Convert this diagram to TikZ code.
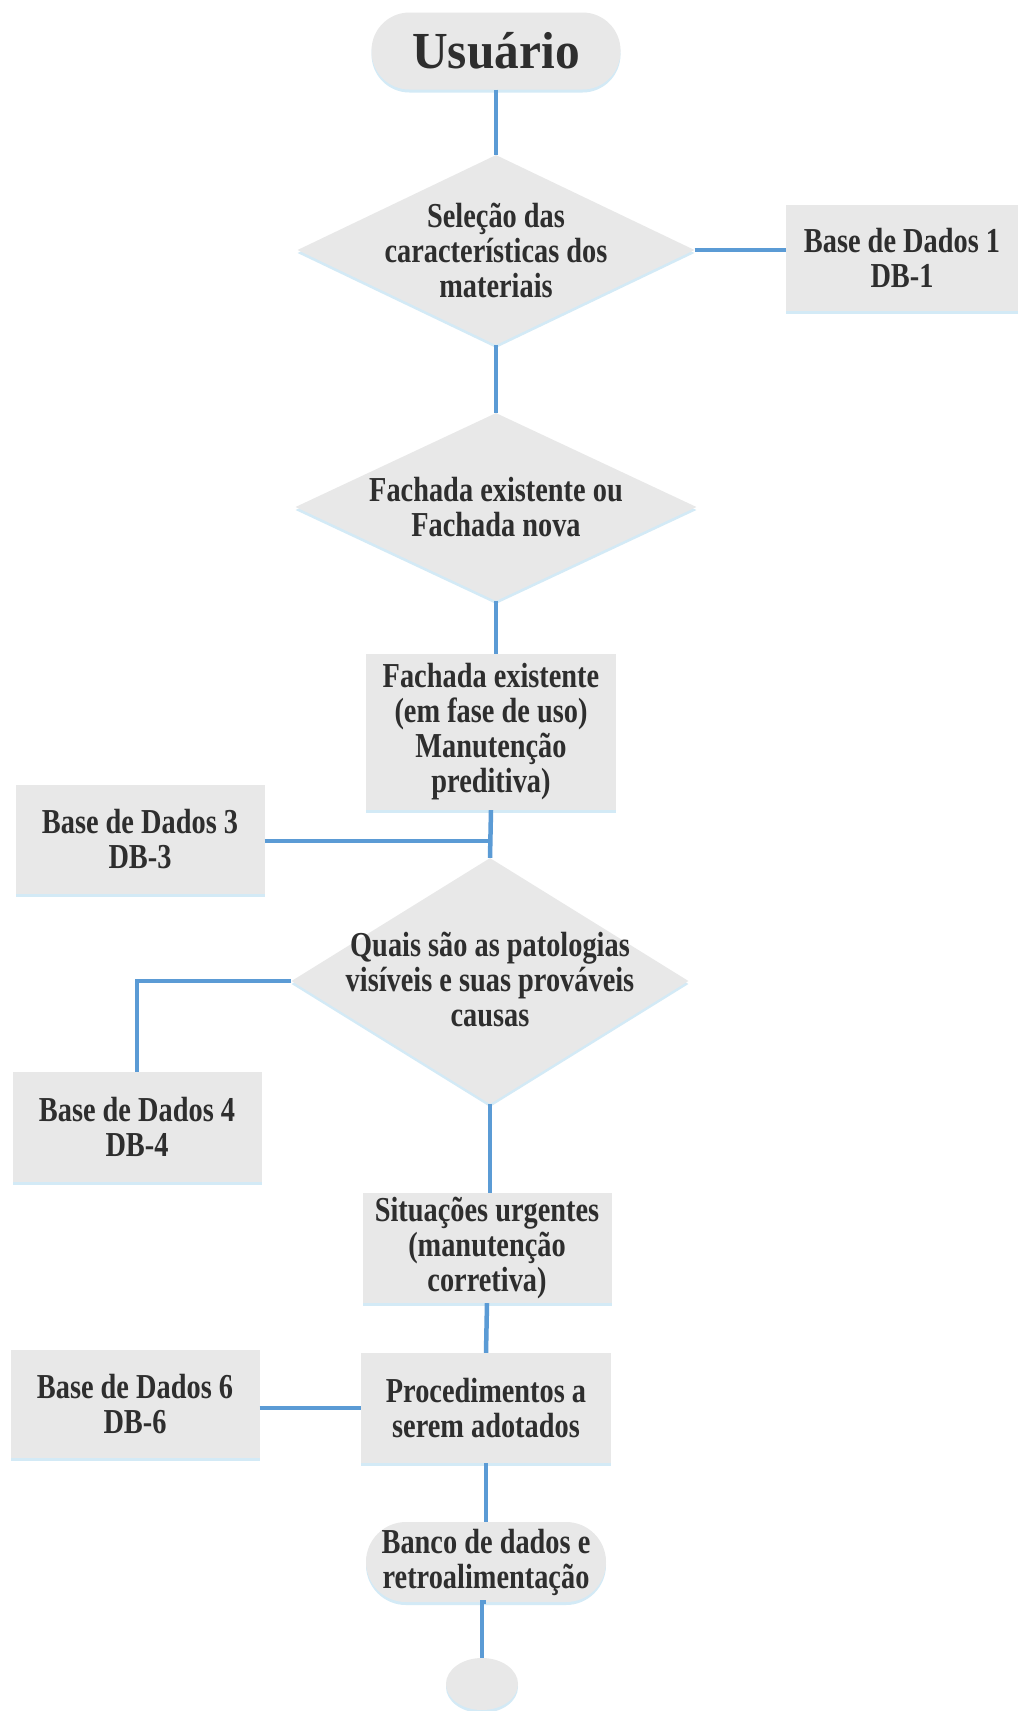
\documentclass[tikz,border=0pt]{standalone}
\usepackage{fontspec}
\usetikzlibrary{shapes.geometric}
\newfontfamily\boxfont{Liberation Serif}[FakeStretch=0.81]
\newfontfamily\headfont{Liberation Serif}[FakeStretch=0.95]
\definecolor{boxfill}{HTML}{E8E8E8}
\definecolor{boxshade}{HTML}{D3EAF6}
\definecolor{linkblue}{HTML}{5B9BD5}
\definecolor{inkgray}{HTML}{2E2E2E}
\tikzset{
  shaded/.style={fill=boxfill, draw=none,
    preaction={fill=boxshade, transform canvas={yshift=-3pt}}},
  procbox/.style={shaded, rectangle, inner sep=0pt},
  decision/.style={shaded, diamond, inner sep=0pt},
  terminal/.style={shaded, rectangle, inner sep=0pt},
  label/.style={text=inkgray, align=center, inner sep=0pt,
    font={\boxfont\bfseries\fontsize{35}{35}\selectfont}},
  link/.style={draw=linkblue, line width=4.5pt}
}
\begin{document}
\begin{tikzpicture}[x=1pt, y=-1pt]
\useasboundingbox[fill=white] (0,0) rectangle (1025,1711);

% start terminal
\node[terminal, rounded corners=38pt, minimum width=249pt, minimum height=77pt,
      text=inkgray, font={\headfont\bfseries\fontsize{52}{54}\selectfont}]
  (usr) at (496,51) {Usuário};

% first decision and database 1
\node[decision, minimum width=397pt, minimum height=190pt] (d1) at (496,250) {};
\node[label] (d1t) at (d1) {Seleção das\\características dos\\materiais};
\node[procbox, minimum width=232pt, minimum height=106pt] (db1) at (902,258) {};
\node[label] (db1t) at (db1) {Base de Dados 1\\DB-1};

% second decision
\node[decision, minimum width=401pt, minimum height=188pt] (d2) at (496,507) {};
\node[label] (d2t) at (d2) {Fachada existente ou\\Fachada nova};

% existing facade
\node[procbox, minimum width=250pt, minimum height=156pt] (fach) at (491,732) {};
\node[label] (facht) at (fach) {Fachada existente\\(em fase de uso)\\Manutenção\\preditiva)};

\node[procbox, minimum width=249pt, minimum height=109pt] (db3) at (140,839) {};
\node[label] (db3t) at (db3) {Base de Dados 3\\DB-3};

% pathologies decision
\node[decision, minimum width=397pt, minimum height=246pt] (d3) at (490,981) {};
\node[label] (d3t) at ([yshift=1pt]d3) {Quais são as patologias\\visíveis e suas prováveis\\causas};

\node[procbox, minimum width=249pt, minimum height=110pt] (db4) at (137,1127) {};
\node[label] (db4t) at (db4) {Base de Dados 4\\DB-4};

% corrective maintenance
\node[procbox, minimum width=249pt, minimum height=110pt] (sit) at (487,1248) {};
\node[label] (sitt) at (sit) {Situações urgentes\\(manutenção\\corretiva)};

\node[procbox, minimum width=250pt, minimum height=110pt] (proc) at (486,1408) {};
\node[label] (proct) at (proc) {Procedimentos a\\serem adotados};

\node[procbox, minimum width=249pt, minimum height=108pt] (db6) at (135,1404) {};
\node[label] (db6t) at (db6) {Base de Dados 6\\DB-6};

% end terminal and connector circle
\node[terminal, rounded corners=40pt, minimum width=240pt, minimum height=80pt] (banco) at (486,1562) {};
\node[label] (bancot) at (banco) {Banco de dados e\\retroalimentação};

\node[shaded, ellipse, minimum width=72pt, minimum height=52pt, inner sep=0pt] (endc) at (482,1684) {};

% connectors
\coordinate (j3) at (491,841);
\coordinate (k4) at (137,981);

\draw[link] (usr.south) -- (d1.north);
\draw[link] (d1.east) -- (d1.east -| db1.west);
\draw[link] (d1.south) -- (d2.north);
\draw[link] (d2.south) -- (d2.south |- fach.north);
\draw[link] (fach.south) -- (d3.north);
\draw[link] (db3.east |- j3) -- (j3);
\draw[link] (d3.west) -- (k4) -- (db4.north);
\draw[link] (d3.south) -- (d3.south |- sit.north);
\draw[link] (sit.south) -- (proc.north);
\draw[link] (db6.east |- proc.west) -- (proc.west);
\draw[link] (proc.south) -- (banco.north);
\draw[link] (banco.south) -- (banco.south -| endc.north) -- (endc.north);
\end{tikzpicture}
\end{document}
